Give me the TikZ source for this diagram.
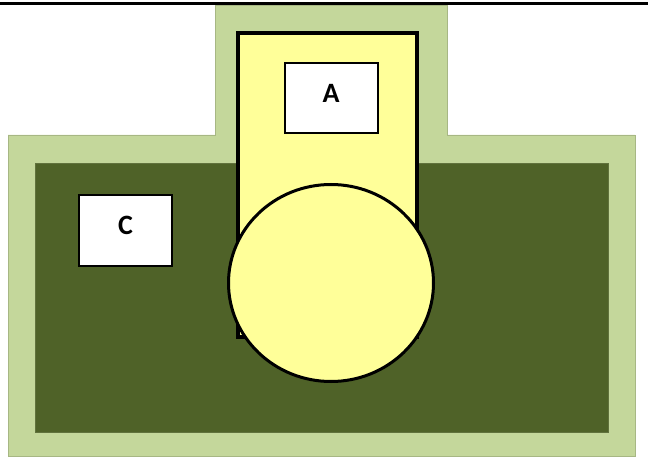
\documentclass[tikz,border=0pt]{standalone}
\usepackage{fontspec}
\setmainfont{Carlito}
\usetikzlibrary{shapes.geometric}
\definecolor{lightolive}{HTML}{C4D79B}
\definecolor{darkolive}{HTML}{4F6228}
\definecolor{paleyellow}{HTML}{FFFF99}
\tikzset{
    label box/.style={draw=black, line width=2pt, fill=white, minimum width=93pt, minimum height=70pt, font=\bfseries\fontsize{28}{30}\selectfont, inner sep=0pt, text height=20pt, text depth=12pt},
}
\begin{document}
\begin{tikzpicture}[x=1pt, y=-1pt]
            \useasboundingbox (0, 0) rectangle (648, 457);
            \fill [lightolive, draw=lightolive!85!black, line width=0.6pt]
                (8, 135) -- (215, 135) -- (215, 5) -- (447, 5) -- (447, 135)
                -- (635, 135) -- (635, 456) -- (8, 456) -- cycle;
            \fill [darkolive, draw=darkolive!90!white, line width=0.6pt] (35, 163) rectangle (608, 432);
            \draw [line width=3pt] (0, 4) -- (648, 4);

            \node [draw=black, line width=4pt, fill=paleyellow, minimum width=179pt, minimum height=304pt, inner sep=0pt] (tube) at (327.5, 185) {};
            \node [draw=black, line width=3pt, fill=paleyellow, ellipse, minimum width=205pt, minimum height=197pt, inner sep=0pt] (bulb) at (331, 283) {};
            \node [label box] (A) at (331, 98.5) {A};
            \node [label box] (C) at (125.5, 230.5) {C};
        \end{tikzpicture}
\end{document}
